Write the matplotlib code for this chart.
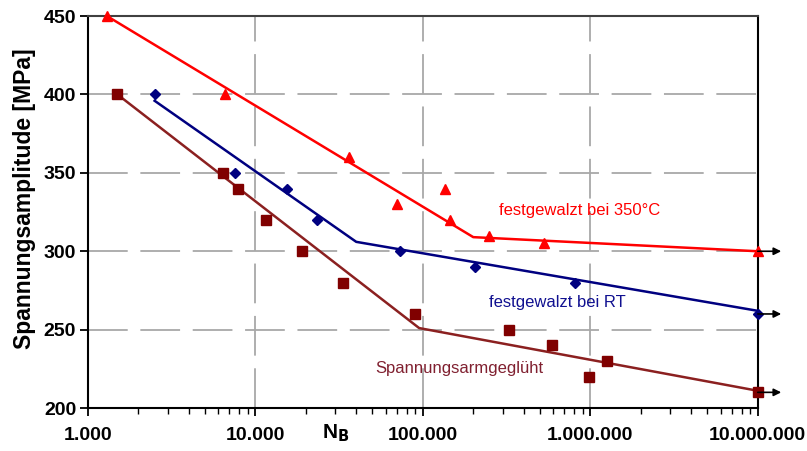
import matplotlib
matplotlib.use("Agg")
import matplotlib.pyplot as plt
from matplotlib.ticker import FixedLocator, LogLocator, NullFormatter

plt.rcParams["font.family"] = ["Liberation Sans", "DejaVu Sans"]

# festgewalzt bei 350°C
hot_n = [1300, 6600, 36000, 70000, 135000, 145000, 248000, 527000, 1e7]
hot_s = [450, 400, 360, 330, 340, 320, 310, 305, 300]
hot_fit_n = [1300, 200000, 1e7]
hot_fit_s = [450, 309, 300]

# festgewalzt bei RT
rt_n = [2500, 7550, 15400, 23300, 73000, 204000, 808000, 1e7]
rt_s = [400, 350, 340, 320, 300, 290, 280, 260]
rt_fit_n = [2500, 40000, 1e7]
rt_fit_s = [396, 306, 262]

# Spannungsarmgeglüht
sa_n = [1500, 6400, 7870, 11600, 19000, 33300, 89500, 326000, 590000, 980000, 1260000, 1e7]
sa_s = [400, 350, 340, 320, 300, 280, 260, 250, 240, 220, 230, 210]
sa_fit_n = [1500, 95000, 1e7]
sa_fit_s = [400, 251, 211]

x_ticks = [1e3, 1e4, 1e5, 1e6, 1e7]
x_labels = ["1.000", "10.000", "100.000", "1.000.000", "10.000.000"]
y_ticks = [200, 250, 300, 350, 400, 450]

RED = "#ff0000"
BLUE = "#000080"
BROWN = "#800000"
BROWN_LINE = "#8b2020"

fig = plt.figure(figsize=(8.07, 4.51), dpi=100)
ax = fig.add_axes([0.109, 0.0953, 0.830, 0.869])

ax.plot(hot_fit_n, hot_fit_s, color=RED, lw=1.8, zorder=3)
ax.plot(rt_fit_n, rt_fit_s, color=BLUE, lw=1.8, zorder=3)
ax.plot(sa_fit_n, sa_fit_s, color=BROWN_LINE, lw=1.8, zorder=3)

ax.plot(hot_n, hot_s, ls="none", marker="^", ms=7, color=RED, clip_on=False, zorder=4)
ax.plot(rt_n, rt_s, ls="none", marker="D", ms=5, color=BLUE, clip_on=False, zorder=4)
ax.plot(sa_n, sa_s, ls="none", marker="s", ms=7, color=BROWN, clip_on=False, zorder=4)

# arrows at the right edge (run-outs)
for s in [hot_s[-1], rt_s[-1], sa_s[-1]]:
    ax.annotate("", xy=(1.38e7, s), xytext=(1e7, s),
                arrowprops=dict(arrowstyle="-|>", color="black", lw=1.2,
                                mutation_scale=11, shrinkA=0, shrinkB=0),
                annotation_clip=False, zorder=5)

ax.text(8.66e5, 326, "festgewalzt bei 350°C", color=RED, fontsize=12,
        ha="center", va="center")
ax.text(6.4e5, 267.6, "festgewalzt bei RT", color="#101090", fontsize=12,
        ha="center", va="center")
ax.text(1.66e5, 225.5, "Spannungsarmgeglüht", color="#802030", fontsize=12,
        ha="center", va="center")

ax.set_xscale("log")
ax.set_xlim(1e3, 1e7)
ax.set_ylim(200, 450)

ax.xaxis.set_major_locator(FixedLocator(x_ticks))
ax.set_xticklabels(x_labels)
ax.xaxis.set_minor_locator(LogLocator(base=10, subs=range(2, 10)))
ax.xaxis.set_minor_formatter(NullFormatter())
ax.set_yticks(y_ticks)

ax.tick_params(axis="both", which="major", direction="out", length=6, width=1.3,
               labelsize=14)
ax.tick_params(axis="x", which="major", pad=8)
ax.tick_params(axis="y", which="major", pad=2.5)
ax.tick_params(axis="x", which="minor", direction="out", length=4, width=1.0)
for lab in ax.get_xticklabels() + ax.get_yticklabels():
    lab.set_fontweight("bold")

ax.grid(True, which="major", color="#a8a8a8", lw=1.3, ls=(0, (22, 7)))
ax.set_axisbelow(True)

for side in ["left", "bottom", "right"]:
    ax.spines[side].set_color("black")
    ax.spines[side].set_linewidth(1.5)
ax.spines["top"].set_color("#404040")
ax.spines["top"].set_linewidth(1.5)

ax.set_ylabel("Spannungsamplitude [MPa]", fontsize=16.5, fontweight="bold")
ax.yaxis.set_label_coords(-0.078, 0.534)
ax.text(0.349, -0.0765, r"N$_\mathbf{B}$", transform=ax.transAxes,
        fontsize=15, fontweight="bold", ha="left", va="baseline")

fig.savefig("out.png", dpi=100)
